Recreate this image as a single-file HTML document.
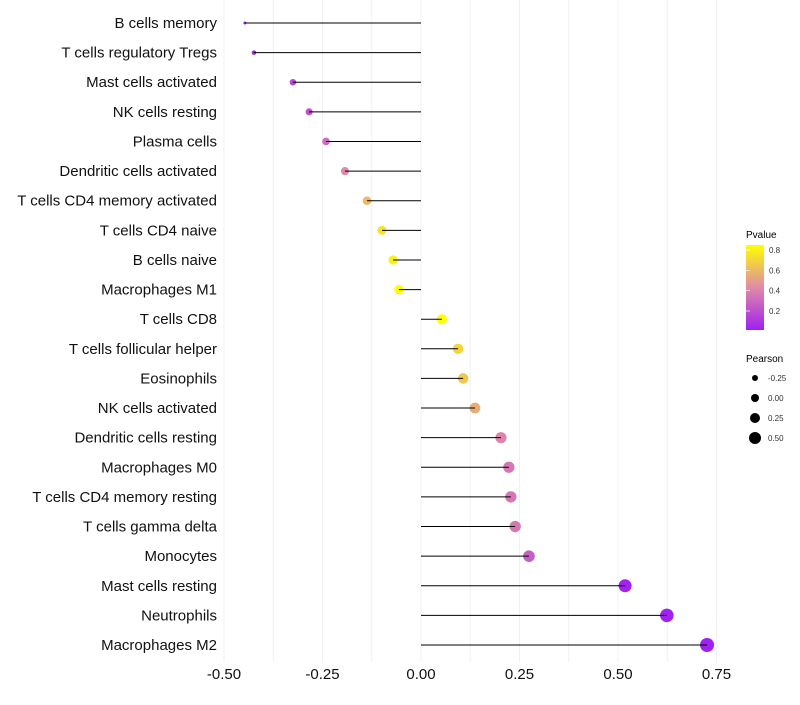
<!DOCTYPE html>
<html><head><meta charset="utf-8"><style>
body{margin:0;background:#fff;font-family:"Liberation Sans",sans-serif}
svg text{font-family:"Liberation Sans",sans-serif}
</style></head><body>
<svg id="chart" width="800" height="700" xmlns="http://www.w3.org/2000/svg">
<defs><linearGradient id="pg" x1="0" y1="1" x2="0" y2="0">
<stop offset="0" stop-color="#a020f0"/><stop offset="0.5" stop-color="#e08aa8"/><stop offset="1" stop-color="#ffff00"/></linearGradient></defs>
<g id="grid"></g>
<g id="dots"></g>
<g id="marks"></g>
<g id="axes"></g>
<g>
<text x="746" y="238" font-size="10">Pvalue</text>
<rect x="746" y="245" width="18" height="85" fill="url(#pg)"/>
<g id="pleg" font-size="8" fill="#333"></g>
</g>
<g>
<text x="746" y="362" font-size="10">Pearson</text>
<g id="sleg" font-size="8" fill="#333"></g>
</g>
</svg>
<script>
const categories=["B cells memory","T cells regulatory  Tregs","Mast cells activated","NK cells resting","Plasma cells","Dendritic cells activated","T cells CD4 memory activated","T cells CD4 naive","B cells naive","Macrophages M1","T cells CD8","T cells follicular helper","Eosinophils","NK cells activated","Dendritic cells resting","Macrophages M0","T cells CD4 memory resting","T cells gamma delta","Monocytes","Mast cells resting","Neutrophils","Macrophages M2"];
const pearson=[-0.447,-0.424,-0.325,-0.284,-0.241,-0.193,-0.137,-0.099,-0.071,-0.056,0.053,0.094,0.107,0.137,0.203,0.223,0.228,0.239,0.274,0.518,0.624,0.726];
const pvalues=[0.01,0.02,0.15,0.2,0.3,0.42,0.6,0.75,0.8,0.85,0.85,0.7,0.65,0.55,0.4,0.35,0.35,0.35,0.25,0.01,0.005,0.0];
const xTicks=[-0.5,-0.25,0,0.25,0.5,0.75];
const xTickLabels=["-0.50","-0.25","0.00","0.25","0.50","0.75"];
const pTicks=[0.2,0.4,0.6,0.8];
const sizeTicks=[-0.25,0,0.25,0.5];
const sizeTickLabels=["-0.25","0.00","0.25","0.50"];
const NS="http://www.w3.org/2000/svg";
const x=v=>421+v*394;
const y=i=>23+i*(622/21);
const r=v=>1.5+5.5*Math.sqrt(Math.max(0,(v+0.447)/1.173));
const pY=p=>330-(p-0.013)*(85/0.837);
function col(p){const t=Math.max(0,Math.min(1,p/0.85));
 const a=[160,32,240],b=[224,138,168],c=[255,255,0];let s,e,u;
 if(t<0.5){s=a;e=b;u=t/0.5}else{s=b;e=c;u=(t-0.5)/0.5}
 return `rgb(${s.map((q,k)=>Math.round(q+(e[k]-q)*u)).join(',')})`;}
function mk(tag,attrs,parent,txt){const el=document.createElementNS(NS,tag);for(const k in attrs)el.setAttribute(k,attrs[k]);if(txt!==undefined)el.textContent=txt;parent.appendChild(el);return el;}
const grid=document.getElementById('grid'),marks=document.getElementById('marks'),dots=document.getElementById('dots'),axes=document.getElementById('axes');
for(let v=-0.5;v<=0.751;v+=0.125){const g=mk('line',{x1:x(v),x2:x(v),y1:0,y2:662,stroke:'#f0f0f0','stroke-width':1},grid);

}
xTicks.forEach((v,i)=>{const t=mk('text',{x:x(v),y:679,'font-size':15,'text-anchor':'middle',fill:'#111'},axes,xTickLabels[i]);

});
categories.forEach((c,i)=>{const t=mk('text',{x:217,y:y(i)+5,'font-size':15,'text-anchor':'end',fill:'#111'},axes,c);


const d=mk('circle',{cx:x(pearson[i]),cy:y(i),r:r(pearson[i]),fill:col(pvalues[i])},dots);


const l=mk('line',{x1:x(0),x2:x(pearson[i]),y1:y(i),y2:y(i),stroke:'#000','stroke-width':1},marks);

});
const pl=document.getElementById('pleg');
pTicks.forEach(p=>{const t=mk('text',{x:769,y:pY(p)+3},pl,p.toFixed(1));


const tk=mk('line',{x1:746,x2:750,y1:pY(p),y2:pY(p),stroke:'#fff','stroke-width':0.7},pl);

});
const sl=document.getElementById('sleg');
sizeTicks.forEach((s,i)=>{const cy=378+i*20;
const c=mk('circle',{cx:755,cy:cy,r:3+i*1,fill:'#000'},sl);


const t=mk('text',{x:768,y:cy+3},sl,sizeTickLabels[i]);

});
</script>
</body></html>
